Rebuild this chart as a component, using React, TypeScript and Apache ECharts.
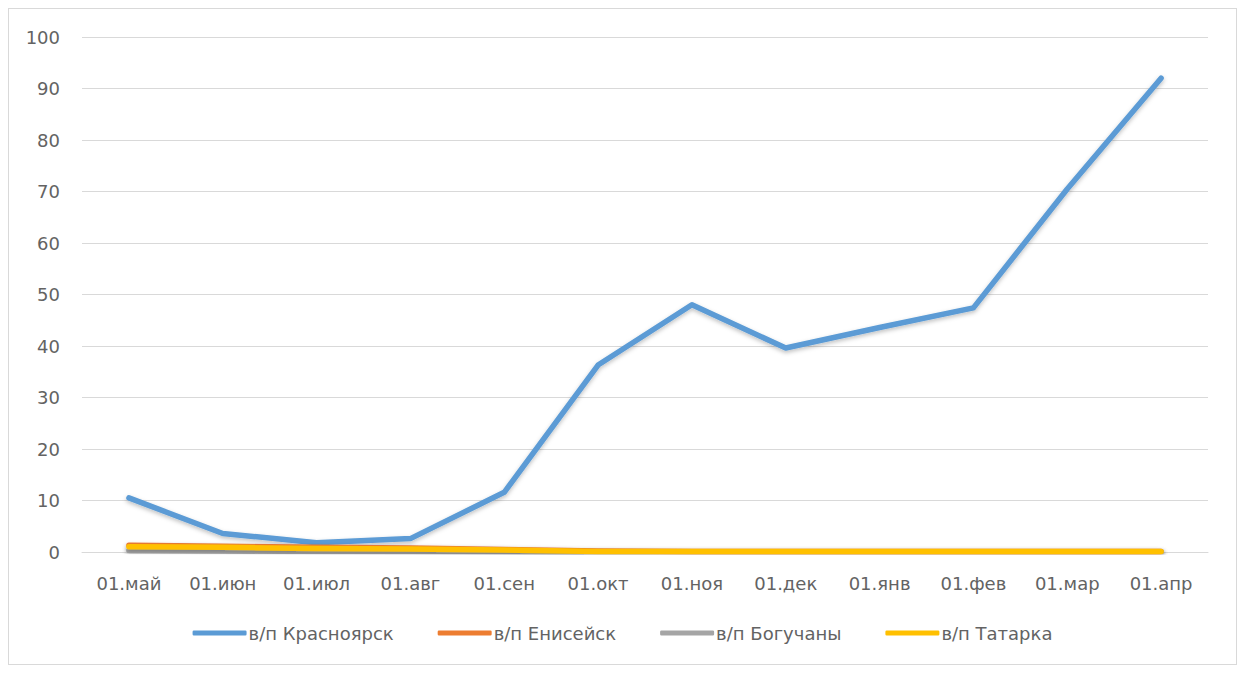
import React, { useEffect, useRef } from "react";
import * as echarts from "echarts";

const categories = ["01.май", "01.июн", "01.июл", "01.авг", "01.сен", "01.окт", "01.ноя", "01.дек", "01.янв", "01.фев", "01.мар", "01.апр"];
const krasnoyarsk = [10.5, 3.6, 1.8, 2.6, 11.6, 36.3, 48, 39.6, 43.6, 47.4, 70.5, 92];
const eniseisk = [1.3, 1.1, 0.9, 0.8, 0.5, 0.2, 0.1, 0.1, 0.1, 0.1, 0.1, 0.1];
const boguchany = [0.3, 0.2, 0.1, 0.1, 0.1, 0, 0, 0, 0, 0, 0, 0];
const tatarka = [1.0, 0.9, 0.7, 0.6, 0.4, 0.1, 0.1, 0.1, 0.1, 0.1, 0.1, 0.1];
const yTicks = { min: 0, max: 100, interval: 10 };

const font = "'DejaVu Sans', 'Noto Sans', sans-serif";
const textColor = "#636363";

export default function App() {
  const ref = useRef<HTMLDivElement>(null);
  useEffect(() => {
    if (!ref.current) return;
    const chart = echarts.init(ref.current, undefined, { renderer: "svg" });
    const mk = (name: string, data: number[], color: string) => ({
      name,
      type: "line",
      data,
      symbol: "none",
      lineStyle: {
        color,
        width: 5.5,
        cap: "round",
        join: "round",
        shadowColor: "rgba(0,0,0,0.25)",
        shadowBlur: 4,
        shadowOffsetY: 2,
      },
      itemStyle: { color },
    });
    chart.setOption({
      animation: false,
      backgroundColor: "#ffffff",
      textStyle: { fontFamily: font },
      grid: { left: 73, right: 28, top: 28, bottom: 112, containLabel: false },
      legend: {
        bottom: 17,
        left: "center",
        itemWidth: 54,
        itemHeight: 5,
        itemGap: 44,
        icon: "roundRect",
        textStyle: { color: textColor, fontSize: 18, fontFamily: font, padding: [0, 0, 0, -3] },
        data: ["в/п Красноярск", "в/п Енисейск", "в/п Богучаны", "в/п Татарка"],
      },
      xAxis: {
        type: "category",
        data: categories,
        boundaryGap: true,
        axisLine: { lineStyle: { color: "#d9d9d9" } },
        axisTick: { show: false },
        axisLabel: { color: textColor, fontSize: 18, margin: 22, fontFamily: font },
      },
      yAxis: {
        type: "value",
        min: yTicks.min,
        max: yTicks.max,
        interval: yTicks.interval,
        axisLine: { show: false },
        axisTick: { show: false },
        axisLabel: { color: textColor, fontSize: 18, margin: 22, fontFamily: font },
        splitLine: { lineStyle: { color: "#d9d9d9" } },
      },
      series: [
        mk("в/п Красноярск", krasnoyarsk, "#5B9BD5"),
        mk("в/п Енисейск", eniseisk, "#ED7D31"),
        mk("в/п Богучаны", boguchany, "#A5A5A5"),
        mk("в/п Татарка", tatarka, "#FFC000"),
      ],
    });
    return () => chart.dispose();
  }, []);
  return (
    <div
      ref={ref}
      style={{ width: 1229, height: 657, border: "1px solid #d9d9d9", boxSizing: "border-box" }}
    />
  );
}
